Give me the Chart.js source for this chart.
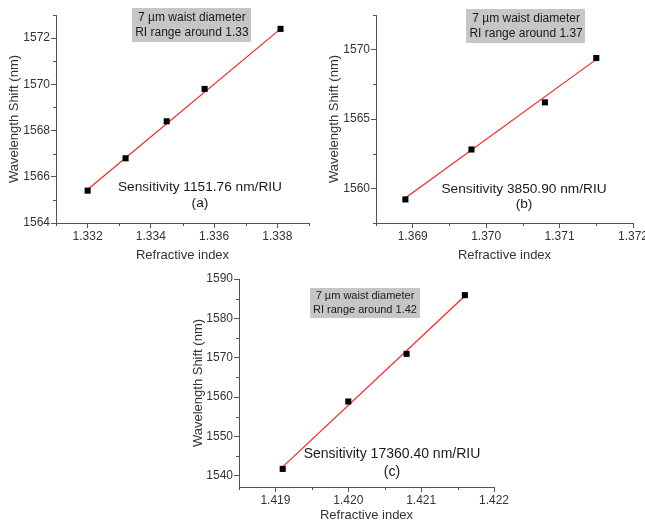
<!DOCTYPE html>
<html>
<head>
<meta charset="utf-8">
<script src="https://cdn.jsdelivr.net/npm/chart.js@4/dist/chart.umd.min.js"></script>
<style>
  html, body { margin: 0; padding: 0; background: #fff; }
  body { width: 645px; height: 521px; position: relative; overflow: hidden; }
  .painel { position: absolute; }
  .painel canvas { display: block; }
</style>
</head>
<body>
<div class="painel" id="pA" style="left:0;top:0;width:320px;height:265px"><canvas id="cA"></canvas></div>
<div class="painel" id="pB" style="left:320px;top:0;width:325px;height:265px"><canvas id="cB"></canvas></div>
<div class="painel" id="pC" style="left:160px;top:262px;width:360px;height:263px"><canvas id="cC"></canvas></div>
<script>
// dados:
// (a) RI em torno de 1.33
const riA = [1.332, 1.3332, 1.3345, 1.3357, 1.3381];
const wlA = [1565.4, 1566.8, 1568.4, 1569.8, 1572.4];
const fitXA = [1.332, 1.3381];
const fitYA = [1565.45, 1572.4];
const xTicksA = [1.332, 1.334, 1.336, 1.338];
const yTicksA = [1564, 1566, 1568, 1570, 1572];

// (b) RI em torno de 1.37
const riB = [1.3689, 1.3698, 1.3708, 1.3715];
const wlB = [1559.2, 1562.8, 1566.2, 1569.4];
const fitXB = [1.3689, 1.3715];
const fitYB = [1559.3, 1569.3];
const xTicksB = [1.369, 1.370, 1.371, 1.372];
const yTicksB = [1560, 1565, 1570];

// (c) RI em torno de 1.42
const riC = [1.4191, 1.4200, 1.4208, 1.4216];
const wlC = [1541.8, 1558.9, 1571.0, 1585.9];
const fitXC = [1.4191, 1.4216];
const fitYC = [1542.3, 1585.7];
const xTicksC = [1.419, 1.420, 1.421, 1.422];
const yTicksC = [1540, 1550, 1560, 1570, 1580, 1590];

const textos = {
  a: { box: ["7 µm waist diameter", "RI range around 1.33"], sens: "Sensitivity 1151.76 nm/RIU", letra: "(a)" },
  b: { box: ["7 µm waist diameter", "RI range around 1.37"], sens: "Sensitivity 3850.90 nm/RIU", letra: "(b)" },
  c: { box: ["7 µm waist diameter", "RI range around 1.42"], sens: "Sensitivity 17360.40 nm/RIU", letra: "(c)" },
};

const FONTE = '"Liberation Sans", Arial, sans-serif';
const COR_EIXO = "#555555";
const COR_TEXTO = "#333333";

// ticks menores entre os maiores (metade do passo)
const minorTicks = {
  id: "minorTicks",
  afterDraw(chart) {
    const ctx = chart.ctx;
    ctx.save();
    ctx.strokeStyle = COR_EIXO;
    ctx.lineWidth = 1;
    for (const id of ["x", "y"]) {
      const s = chart.scales[id];
      const vals = s.ticks.map(t => t.value);
      const passo = vals[1] - vals[0];
      const menores = [];
      for (let v = vals[0] - passo / 2; v <= s.max + 1e-9; v += passo) {
        if (v >= s.min - 1e-9) menores.push(v);
      }
      for (const v of menores) {
        const p = Math.round(s.getPixelForValue(v)) + 0.5;
        ctx.beginPath();
        if (id === "x") {
          ctx.moveTo(p, s.top);
          ctx.lineTo(p, s.top + 3);
        } else {
          ctx.moveTo(s.right, p);
          ctx.lineTo(s.right - 3, p);
        }
        ctx.stroke();
      }
    }
    ctx.restore();
  },
};

// caixa cinza e textos de sensibilidade
const anotacoes = {
  id: "anotacoes",
  afterDatasetsDraw(chart, args, opts) {
    const { ctx, chartArea: a } = chart;
    const t = opts.textos;
    const b = opts.box;
    ctx.save();
    // caixa
    const bx = a.left + b.x * (a.right - a.left);
    const by = a.top + b.y * (a.bottom - a.top);
    ctx.font = `${b.font}px ${FONTE}`;
    const larg = Math.max(...t.box.map(l => ctx.measureText(l).width)) + b.padX * 2;
    const alt = b.linha * 2 + b.padY * 2;
    ctx.fillStyle = "#c6c6c6";
    ctx.fillRect(Math.round(bx - larg / 2), Math.round(by), Math.round(larg), Math.round(alt));
    ctx.fillStyle = "#1a1a1a";
    ctx.textAlign = "center";
    ctx.textBaseline = "middle";
    ctx.fillText(t.box[0], bx, by + b.padY + b.linha / 2);
    ctx.fillText(t.box[1], bx, by + b.padY + b.linha * 1.5);
    // sensibilidade
    const sx = a.left + opts.sens.x * (a.right - a.left);
    const sy = a.top + opts.sens.y * (a.bottom - a.top);
    ctx.font = `${opts.sens.font}px ${FONTE}`;
    ctx.fillText(t.sens, sx, sy);
    ctx.fillText(t.letra, sx, sy + opts.sens.gap);
    ctx.restore();
  },
};

function escala(min, max, ticks, casas, titulo, extra) {
  return Object.assign({
    type: "linear",
    min: min,
    max: max,
    afterBuildTicks: (s) => { s.ticks = ticks.map(v => ({ value: v })); },
    grid: { drawOnChartArea: false, drawTicks: true, tickLength: 5, color: COR_EIXO },
    border: { display: true, color: COR_EIXO, width: 1 },
    ticks: {
      color: COR_TEXTO,
      font: { family: FONTE, size: 12 },
      padding: 1,
      maxRotation: 0,
      callback: (v) => Number(v).toFixed(casas),
    },
    title: { display: true, text: titulo, color: COR_TEXTO, font: { family: FONTE, size: 13 }, padding: 2 },
  }, extra || {});
}

function criarGrafico(canvasId, ri, wl, fitX, fitY, cfg) {
  const pontos = ri.map((x, i) => ({ x: x, y: wl[i] }));
  const ajuste = fitX.map((x, i) => ({ x: x, y: fitY[i] }));
  return new Chart(document.getElementById(canvasId), {
    type: "scatter",
    data: {
      datasets: [
        {
          label: "fit",
          data: ajuste,
          showLine: true,
          borderColor: "#ff2020",
          borderWidth: 1.2,
          pointRadius: 0,
          order: 2,
        },
        {
          label: "dados",
          data: pontos,
          pointStyle: "rect",
          pointRadius: 4.3,
          backgroundColor: "#000000",
          borderColor: "#000000",
          borderWidth: 0,
          order: 1,
        },
      ],
    },
    options: {
      responsive: true,
      maintainAspectRatio: false,
      animation: false,
      layout: { padding: cfg.padding },
      plugins: {
        legend: { display: false },
        tooltip: { enabled: false },
        anotacoes: cfg.anot,
      },
      scales: {
        x: escala(cfg.x[0], cfg.x[1], cfg.xTicks, 3, "Refractive index", {
          afterFit: (s) => { s.height = cfg.xAltura; s.paddingLeft = 0; s.paddingRight = 0; },
        }),
        y: escala(cfg.y[0], cfg.y[1], cfg.yTicks, 0, "Wavelength Shift (nm)", {
          afterFit: (s) => { s.width = cfg.yLargura; s.paddingTop = 0; s.paddingBottom = 0; },
        }),
      },
    },
    plugins: [minorTicks, anotacoes],
  });
}

function carregar() {
  criarGrafico("cA", riA, wlA, fitXA, fitYA, {
    x: [1.331, 1.339], y: [1564, 1573], xTicks: xTicksA, yTicks: yTicksA,
    padding: { top: 15, right: 11, left: 5, bottom: 0 }, xAltura: 42, yLargura: 51,
    anot: {
      textos: textos.a,
      box: { x: 0.537, y: -0.034, font: 12, linha: 15, padX: 3, padY: 2 },
      sens: { x: 0.569, y: 0.826, font: 13.7, gap: 16 },
    },
  });
  criarGrafico("cB", riB, wlB, fitXB, fitYB, {
    x: [1.3685, 1.372], y: [1557.5, 1572.5], xTicks: xTicksB, yTicks: yTicksB,
    padding: { top: 15, right: 12, left: 5, bottom: 0 }, xAltura: 42, yLargura: 51,
    anot: {
      textos: textos.b,
      box: { x: 0.584, y: -0.029, font: 12, linha: 15, padX: 3, padY: 2 },
      sens: { x: 0.576, y: 0.836, font: 13.7, gap: 15 },
    },
  });
  criarGrafico("cC", riC, wlC, fitXC, fitYC, {
    x: [1.4185, 1.422], y: [1537.2, 1590], xTicks: xTicksC, yTicks: yTicksC,
    padding: { top: 17, right: 26, left: 29, bottom: 0 }, xAltura: 38, yLargura: 50,
    anot: {
      textos: textos.c,
      box: { x: 0.494, y: 0.043, font: 11, linha: 14, padX: 3, padY: 1 },
      sens: { x: 0.600, y: 0.841, font: 14, gap: 18 },
    },
  });
}

addEventListener("load", carregar);
</script>
</body>
</html>
